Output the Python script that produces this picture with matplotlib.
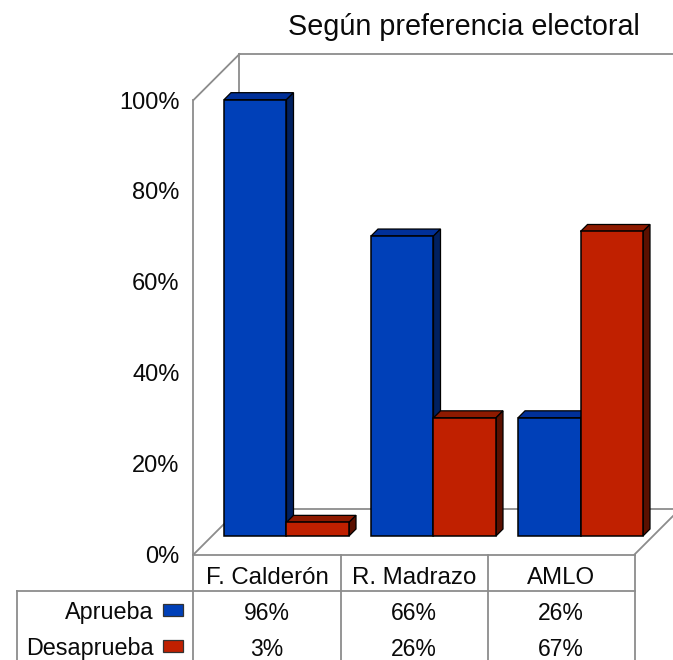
import matplotlib
matplotlib.use('Agg')
import matplotlib.pyplot as plt
from matplotlib.patches import Polygon
from matplotlib.lines import Line2D

plt.rcParams['font.family'] = ['Liberation Sans', 'DejaVu Sans']

# data
categorias = ['F. Calderón', 'R. Madrazo', 'AMLO']
aprueba = [96, 66, 26]
desaprueba = [3, 26, 67]
series = ['Aprueba', 'Desaprueba']
ticks = [0, 20, 40, 60, 80, 100]

W, H = 673, 660
fig = plt.figure(figsize=(W / 100, H / 100), dpi=100)

# front plane of the 3d box, in pixels of the picture
x0, x1 = 193.5, 634.5
y_top, y_bot = 100, 554.5
ax = fig.add_axes([x0 / W, 1 - y_bot / H, (x1 - x0) / W, (y_bot - y_top) / H])
ax.set_xlim(0, 3)
ax.set_ylim(0, 100)
ax.axis('off')

px = 3 / (x1 - x0)       # one pixel in x data units
py = 100 / (y_bot - y_top)  # one pixel in y data units

gris = '#8c8c8c'
negro = '#0a0a0a'
azul, azul_top, azul_side = '#0040b8', '#003099', '#002060'
rojo, rojo_top, rojo_side = '#c02000', '#8e1a00', '#5a1000'

# box walls
prof = 46
def linea(xs, ys, lw=1.3):
    ax.add_line(Line2D(xs, ys, color=gris, lw=lw, clip_on=False, zorder=1))

linea([0, 0], [0, 100])
linea([0, prof * px], [100, 100 + prof * py])
linea([prof * px, prof * px], [prof * py, 100 + prof * py])
linea([0, prof * px], [0, prof * py])
linea([prof * px, 3 + 40 * px], [prof * py, prof * py])
linea([3, 3 + 40 * px], [0, 40 * py])
linea([prof * px, 3 + 40 * px], [100 + prof * py, 100 + prof * py])

# bars, shifted to the middle of the depth
base = 18.5 * py
ancho = 62.5 * px
desde = 30.5 * px
d = 7

def barra3d(x, v, c_front, c_top, c_side, z):
    y = base + v
    xr = x + ancho
    ax.add_patch(Polygon([(x, y), (x + d * px, y + d * py), (xr + d * px, y + d * py), (xr, y)],
                         fc=c_top, ec='black', lw=0.9, zorder=z, clip_on=False))
    ax.add_patch(Polygon([(xr, base), (xr + d * px, base + d * py), (xr + d * px, y + d * py), (xr, y)],
                         fc=c_side, ec='black', lw=0.9, zorder=z, clip_on=False))
    ax.bar(x, v, ancho, bottom=base, align='edge', color=c_front,
           edgecolor='black', lw=1.1, zorder=z + 0.5, clip_on=False)

for i in range(len(categorias)):
    # blue first, the red bar stands in front of its side face
    barra3d(i + desde, aprueba[i], azul, azul_top, azul_side, 3)
    barra3d(i + desde + ancho, desaprueba[i], rojo, rojo_top, rojo_side, 4)

for t in ticks:
    ax.text(-14 * px, t - 2.5 * py, '%d%%' % t, ha='right', va='center', fontsize=17, color=negro)

fig.text(463.5 / W, 1 - 27 / H, 'Según preferencia electoral', ha='center', va='center',
         fontsize=20.7, color=negro)

# data table below the chart, pixels converted through the axes scale
fila1, fila2 = 591, 660
def yp(p):
    return (y_bot - p) * py

linea([0, 3], [0, 0])
linea([-176.5 * px, 3], [yp(fila1), yp(fila1)])
linea([-176.5 * px, -176.5 * px], [yp(fila1), yp(fila2)])
for i in range(4):
    linea([i, i], [0, yp(fila2)])

y_cat, y_a, y_d = yp(578), yp(613), yp(649)
for i, c in enumerate(categorias):
    ax.text(i + 0.5, y_cat, c, ha='center', va='center', fontsize=17.3, color=negro)
    ax.text(i + 0.5, y_a, '%d%%' % aprueba[i], ha='center', va='center', fontsize=16.5, color=negro)
    ax.text(i + 0.5, y_d, '%d%%' % desaprueba[i], ha='center', va='center', fontsize=16.5, color=negro)

for nombre, yy, color in [(series[0], y_a, azul), (series[1], y_d, rojo)]:
    ax.text(-40 * px, yy, nombre, ha='right', va='center', fontsize=16.8, color=negro)
    yc = yy + 3 * py
    ax.add_patch(Polygon([(-30 * px, yc - 6 * py), (-10 * px, yc - 6 * py),
                          (-10 * px, yc + 6 * py), (-30 * px, yc + 6 * py)],
                         fc=color, ec='#333333', lw=0.9, clip_on=False))

fig.savefig('out.png', dpi=100)
